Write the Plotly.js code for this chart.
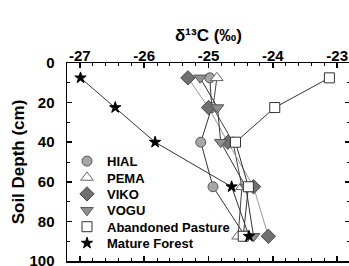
<!DOCTYPE html>
<html><head><meta charset="utf-8">
<script src="https://cdn.plot.ly/plotly-3.0.1.min.js"></script>
<style>html,body{margin:0;padding:0;overflow:hidden;background:#fff;width:349px;height:266px}</style>
</head><body><div id="chart"></div>
<script>
const depth = [7.5, 22.5, 40, 62.5, 87.5];
const seriesNames = ['HIAL', 'PEMA', 'VIKO', 'VOGU', 'Abandoned Pasture', 'Mature Forest'];
const hial = [-24.98, -24.95, -25.12, -24.93, -24.43];
const pema = [-24.87, -24.93, -24.62, -24.48, -24.54];
const viko = [-25.32, -25.0, -24.70, -24.30, -24.07];
const vogu = [-25.13, -24.86, -24.81, -24.42, -24.30];
const pasture = [-23.12, -23.97, -24.58, -24.38, -24.46];
const forest = [-26.99, -26.45, -25.83, -24.64, -24.37];
const xTickVals = [-27, -26, -25, -24, -23];
const xTickText = ['-27', '-26', '-25', '-24', '-23'];
const yTickVals = [0, 20, 40, 60, 80, 100];

const values = [hial, pema, viko, vogu, pasture, forest];
const styles = [
  {symbol: 'circle', size: 10, color: '#a6a6a6', line: '#555', lc: '#333'},
  {symbol: 'triangle-up', size: 11, color: '#ffffff', line: '#666', lc: '#444'},
  {symbol: 'diamond', size: 11, color: '#707070', line: '#444', lc: '#999'},
  {symbol: 'triangle-down', size: 11, color: '#8f8f8f', line: '#555', lc: '#333'},
  {symbol: 'square', size: 10, color: '#ffffff', line: '#333', lc: '#333'},
  {symbol: 'star', size: 8.5, color: '#000000', line: '#000', lc: '#333'}
];
const traces = [];
values.forEach((v, i) => {
  traces.push({x: v, y: depth, mode: 'lines', showlegend: false, hoverinfo: 'skip',
    line: {color: styles[i].lc, width: 1}});
});
values.forEach((v, i) => {
  traces.push({x: v, y: depth, mode: 'markers', name: seriesNames[i],
    marker: {symbol: styles[i].symbol, size: styles[i].size, color: styles[i].color,
      line: {color: styles[i].line, width: 1}}});
});
const fam = 'Liberation Sans, Arial, sans-serif';
const layout = {
  width: 352, height: 272,
  margin: {l: 67, r: 2, t: 63, b: 11, autoexpand: false},
  paper_bgcolor: '#fff', plot_bgcolor: '#fff',
  showlegend: true,
  legend: {x: 0.0, y: 0.58, xanchor: 'left', yanchor: 'top', bgcolor: 'rgba(0,0,0,0)',
    font: {family: fam, size: 13, color: '#000', weight: 'bold'}, tracegroupgap: 0, itemsizing: 'trace'},
  xaxis: {side: 'top', range: [-27.2, -22.8], tickvals: xTickVals, ticktext: xTickText,
    automargin: false,
    ticks: 'inside', ticklen: 5, tickwidth: 1.5, tickcolor: '#000',
    showline: true, linecolor: '#000', linewidth: 1.5, mirror: 'ticks',
    showgrid: false, zeroline: false,
    minor: {dtick: 0.2, ticks: 'inside', ticklen: 3, tickcolor: '#000', tickwidth: 1, showgrid: false},
    tickfont: {family: fam, size: 15, color: '#000', weight: 'bold'},
    ticklabelstandoff: -5,
    title: {text: 'δ¹³C (‰)', standoff: 0, font: {family: fam, size: 17, color: '#000', weight: 'bold'}}},
  yaxis: {range: [100, 0], tickvals: yTickVals,
    automargin: false,
    ticks: 'inside', ticklen: 5, tickwidth: 1.5, tickcolor: '#000',
    showline: true, linecolor: '#000', linewidth: 1.5, mirror: 'ticks',
    showgrid: false, zeroline: false,
    minor: {dtick: 10, ticks: 'inside', ticklen: 3, tickcolor: '#000', tickwidth: 1, showgrid: false},
    tickfont: {family: fam, size: 15, color: '#000', weight: 'bold'},
    ticklabelstandoff: 8,
    title: {text: 'Soil Depth (cm)', standoff: 0, font: {family: fam, size: 17, color: '#000', weight: 'bold'}}}
};
Plotly.newPlot('chart', traces, layout, {displayModeBar: false, staticPlot: true}).then(gd => {
  // tighten legend row spacing to match the reference
  const items = gd.querySelectorAll('.legend .traces');
  let y0 = null;
  items.forEach((el, i) => {
    const m = /translate\(([-\d.]+),\s*([-\d.]+)\)/.exec(el.getAttribute('transform') || '');
    if (!m) return;
    const x = parseFloat(m[1]), y = parseFloat(m[2]);
    if (y0 === null) y0 = y;
    el.setAttribute('transform', 'translate(' + x + ',' + (y0 + i * 16.4) + ')');
  });
});
</script></body></html>
